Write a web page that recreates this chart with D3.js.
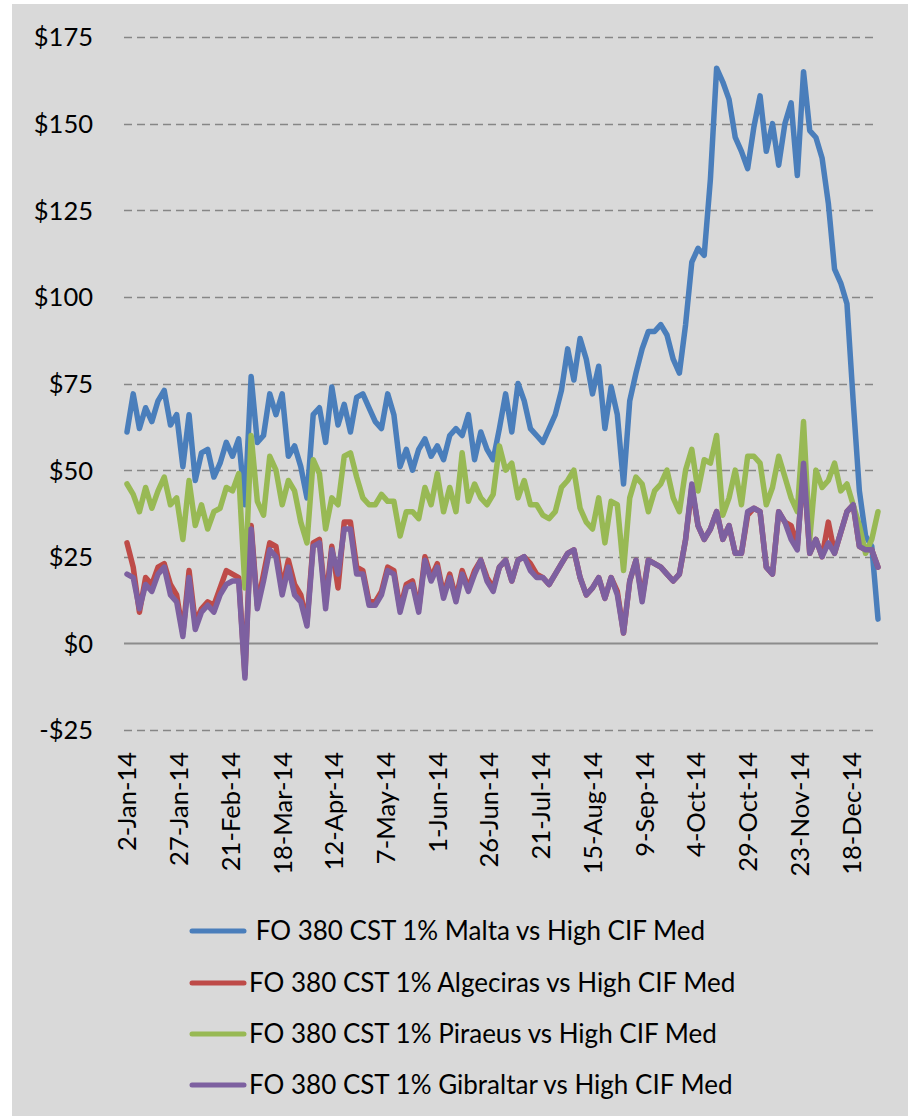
<!DOCTYPE html>
<html>
<head>
<meta charset="utf-8">
<script src="https://cdn.jsdelivr.net/npm/d3@7"></script>
<style>
  body { margin: 0; background: #fff; }
  text { font-family: Lato, "Open Sans", sans-serif; fill: #000; }
</style>
</head>
<body>
<div id="chart"></div>
<script>
// series, in Excel draw order (last one ends up on top)
const seriesNames = [
  " FO 380 CST 1% Malta vs High CIF Med",
  "FO 380 CST 1% Algeciras vs High CIF Med",
  "FO 380 CST 1% Piraeus vs High CIF Med",
  "FO 380 CST 1% Gibraltar vs High CIF Med"
];
const seriesColors = ["#4a7ebb", "#be4b48", "#98b954", "#7d60a0"];

// samples every 3 days from 2-Jan-14
const startDate = new Date(2014, 0, 2);
const stepDays = 3;

const malta = [
  61, 72, 62, 68, 64, 70, 73, 63, 66, 51,
  66, 47, 55, 56, 48, 52, 58, 54, 59, 40,
  77, 58, 60, 72, 66, 72, 54, 57, 51, 42,
  66, 68, 58, 74, 63, 69, 61, 71, 72, 68,
  64, 62, 72, 66, 51, 56, 50, 56, 59, 54,
  57, 53, 60, 62, 60, 66, 53, 61, 56, 53,
  62, 72, 61, 75, 70, 62, 60, 58, 62, 66,
  73, 85, 76, 88, 82, 72, 80, 62, 74, 66,
  46, 70, 78, 85, 90, 90, 92, 89, 82, 78,
  92, 110, 114, 112, 134, 166, 162, 157, 146, 142,
  137, 149, 158, 142, 150, 138, 150, 156, 135, 165,
  148, 146, 140, 127, 108, 104, 98, 70, 44, 31,
  28, 7
];
const algeciras = [
  29, 22, 9, 19, 17, 22, 23, 17, 14, 3,
  21, 6, 10, 12, 11, 16, 21, 20, 19, -9,
  34, 11, 20, 29, 28, 16, 24, 17, 14, 6,
  29, 30, 12, 28, 16, 35, 35, 22, 21, 12,
  12, 15, 22, 21, 10, 17, 18, 10, 25, 19,
  23, 14, 20, 13, 21, 16, 21, 24, 19, 16,
  22, 24, 18, 24, 25, 23, 20, 19, 17, 20,
  23, 26, 27, 19, 14, 16, 19, 13, 19, 15,
  3, 18, 24, 13, 24, 23, 22, 20, 18, 20,
  30, 45, 34, 30, 33, 38, 30, 34, 26, 26,
  37, 39, 38, 22, 20, 38, 35, 34, 28, 51,
  26, 30, 25, 35, 26, 32, 38, 40, 28, 27,
  27, 22
];
const piraeus = [
  46, 43, 38, 45, 39, 44, 48, 40, 42, 30,
  47, 34, 40, 33, 38, 39, 45, 44, 49, 16,
  60, 41, 37, 54, 50, 40, 47, 44, 35, 29,
  53, 49, 33, 42, 40, 54, 55, 48, 42, 40,
  40, 43, 41, 41, 31, 38, 38, 36, 45, 40,
  49, 38, 45, 38, 55, 41, 46, 42, 40, 43,
  57, 50, 52, 42, 47, 40, 40, 37, 36, 38,
  45, 47, 50, 39, 35, 33, 42, 29, 41, 40,
  21, 42, 48, 46, 38, 44, 46, 50, 42, 38,
  50, 56, 44, 53, 52, 60, 37, 42, 50, 40,
  54, 54, 52, 40, 45, 54, 48, 42, 38, 64,
  30, 50, 45, 47, 52, 44, 46, 40, 34, 26,
  30, 38
];
const gibraltar = [
  20, 19, 10, 17, 15, 20, 22, 14, 12, 2,
  19, 4, 9, 11, 9, 14, 17, 18, 18, -10,
  33, 10, 18, 27, 25, 14, 22, 14, 12, 5,
  28, 29, 10, 27, 20, 33, 33, 20, 20, 11,
  11, 14, 21, 20, 9, 16, 17, 9, 24, 18,
  22, 13, 19, 12, 20, 15, 20, 24, 18, 15,
  22, 24, 18, 24, 25, 21, 19, 19, 17, 20,
  23, 26, 27, 19, 14, 16, 19, 13, 19, 14,
  3, 18, 24, 12, 24, 23, 22, 20, 18, 20,
  30, 46, 34, 30, 33, 38, 30, 34, 26, 26,
  38, 39, 38, 22, 20, 38, 35, 30, 27, 52,
  26, 30, 25, 29, 26, 32, 38, 40, 28, 27,
  27, 22
];

const yTicks = [-25, 0, 25, 50, 75, 100, 125, 150, 175];
const xTickLabels = [
  "2-Jan-14", "27-Jan-14", "21-Feb-14", "18-Mar-14", "12-Apr-14",
  "7-May-14", "1-Jun-14", "26-Jun-14", "21-Jul-14", "15-Aug-14",
  "9-Sep-14", "4-Oct-14", "29-Oct-14", "23-Nov-14", "18-Dec-14"
];

const W = 912, H = 1119;
const plotLeft = 124, plotRight = 878;

const svg = d3.select("#chart").append("svg")
  .attr("width", W)
  .attr("height", H);

svg.append("rect")
  .attr("x", 12).attr("y", 4)
  .attr("width", 896).attr("height", 1112)
  .attr("fill", "#d9d9d9");

const dates = malta.map((d, i) => d3.timeDay.offset(startDate, i * stepDays));

const x = d3.scaleTime()
  .domain([startDate, new Date(2014, 11, 31)])
  .range([127, 878]);

const y = d3.scaleLinear()
  .domain([-25, 175])
  .range([730, 37]);

// gridlines (dashed), zero line solid
svg.append("g")
  .selectAll("line")
  .data(yTicks)
  .join("line")
  .attr("x1", plotLeft)
  .attr("x2", plotRight)
  .attr("y1", d => Math.round(y(d)) + 0.5)
  .attr("y2", d => Math.round(y(d)) + 0.5)
  .attr("stroke", d => d === 0 ? "#8c8c8c" : "#868686")
  .attr("stroke-width", d => d === 0 ? 2 : 1.6)
  .attr("stroke-dasharray", d => d === 0 ? null : "8,5");

// y axis labels
const yAxis = d3.axisLeft(y)
  .tickValues(yTicks)
  .tickSize(0)
  .tickPadding(0)
  .tickFormat(d => (d < 0 ? "-$" : "$") + Math.abs(d));

svg.append("g")
  .attr("transform", "translate(93,0)")
  .call(yAxis)
  .call(g => g.select(".domain").remove())
  .selectAll("text")
  .attr("font-family", null)
  .attr("font-size", null)
  .style("font-size", "25.5px")
  .attr("dy", "0.35em");

// x axis labels, rotated
const parseTick = d3.timeParse("%d-%b-%y");
const xAxis = d3.axisBottom(x)
  .tickValues(xTickLabels.map(parseTick))
  .tickSize(0)
  .tickFormat(d3.timeFormat("%-d-%b-%y"));

svg.append("g")
  .attr("transform", `translate(0,${y(-25)})`)
  .call(xAxis)
  .call(g => g.select(".domain").remove())
  .selectAll("text")
  .attr("font-family", null)
  .attr("font-size", null)
  .style("font-size", "25.5px")
  .attr("transform", "rotate(-90)")
  .attr("text-anchor", "end")
  .attr("x", -22)
  .attr("y", 0)
  .attr("dy", "0.35em");

// lines
const allSeries = [malta, algeciras, piraeus, gibraltar];
const line = d3.line()
  .x((d, i) => x(dates[i]))
  .y(d => y(d));

svg.append("g")
  .selectAll("path")
  .data(allSeries)
  .join("path")
  .attr("d", line)
  .attr("fill", "none")
  .attr("stroke", (d, i) => seriesColors[i])
  .attr("stroke-width", 5.5)
  .attr("stroke-linejoin", "round")
  .attr("stroke-linecap", "round");

// legend
const legendY = [931, 983, 1034, 1085];
const legend = svg.append("g")
  .selectAll("g")
  .data(seriesNames)
  .join("g")
  .attr("transform", (d, i) => `translate(0,${legendY[i]})`);

legend.append("line")
  .attr("x1", 192).attr("x2", 244)
  .attr("stroke", (d, i) => seriesColors[i])
  .attr("stroke-width", 5)
  .attr("stroke-linecap", "round");

legend.append("text")
  .attr("x", 249)
  .attr("dy", "0.35em")
  .style("font-size", "26px")
  .style("white-space", "pre")
  .text(d => d);
</script>
</body>
</html>
